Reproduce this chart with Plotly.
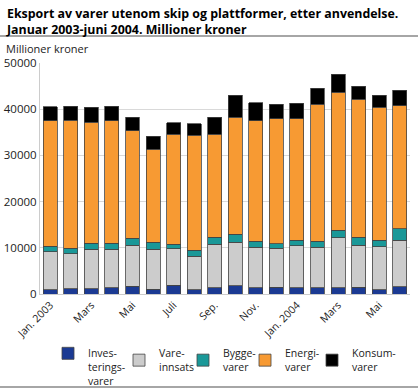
import plotly.graph_objects as go

months = ["Jan. 2003", "Feb. 2003", "Mars 2003", "Apr. 2003", "Mai 2003", "Juni 2003",
          "Juli 2003", "Aug. 2003", "Sep. 2003", "Okt. 2003", "Nov. 2003", "Des. 2003",
          "Jan. 2004", "Feb. 2004", "Mars 2004", "Apr. 2004", "Mai 2004", "Juni 2004"]
tick_vals = ["Jan. 2003", "Mars 2003", "Mai 2003", "Juli 2003", "Sep. 2003", "Nov. 2003",
             "Jan. 2004", "Mars 2004", "Mai 2004"]
tick_text = ["Jan. 2003", "Mars", "Mai", "Juli", "Sep.", "Nov.", "Jan. 2004", "Mars", "Mai"]

investeringsvarer = [900, 1150, 1150, 1300, 1730, 1080, 1940, 940, 1300, 1800, 1300, 1510,
                     1300, 1300, 1370, 1510, 940, 1580]
vareinnsats = [8250, 7560, 8500, 8350, 8850, 8570, 7850, 7270, 9430, 9430, 8850, 8350,
               9140, 8850, 10800, 9070, 9280, 10080]
byggevarer = [1150, 1150, 1360, 1360, 1520, 1510, 1010, 1220, 1580, 1660, 1300, 1010,
              1220, 1300, 1650, 1730, 1440, 2450]
energivarer = [27200, 27720, 26140, 26500, 23250, 20160, 23830, 24910, 22250, 25410, 26060, 27070,
               26280, 29660, 29880, 29810, 28730, 26640]
konsumvarer = [3000, 3020, 3240, 3170, 2880, 2880, 2450, 2520, 3670, 4680, 3890, 3100,
               3310, 3380, 3820, 2880, 2660, 3310]

series = [
    ("Inves-<br>terings-<br>varer", investeringsvarer, "#1b3a93"),
    ("Vare-<br>innsats", vareinnsats, "#cccccc"),
    ("Bygge-<br>varer", byggevarer, "#1a9898"),
    ("Energi-<br>varer", energivarer, "#f79a33"),
    ("Konsum-<br>varer", konsumvarer, "#000000"),
]

W, H = 418, 389
L, R, T, B = 40, 8, 63, 95
pw, ph = W - L - R, H - T - B


def px(xp):
    return (xp - L) / pw


def py(yp):
    return (H - B - yp) / ph


legend_x = [48, 119, 183, 245, 312]
legend_valign = ["top", "middle", "middle", "middle", "middle"]
legend_top = 340

fig = go.Figure()
legends = {}
for i, (name, vals, col) in enumerate(series):
    lname = "legend" if i == 0 else f"legend{i + 1}"
    fig.add_trace(go.Bar(x=months, y=vals, name=name, legend=lname,
                         marker=dict(color=col, line=dict(color="#444444", width=0.8))))
    legends[lname] = dict(orientation="v", xref="container", yref="container",
                          x=legend_x[i] / W, xanchor="left",
                          y=1 - legend_top / H, yanchor="top",
                          valign=legend_valign[i], bgcolor="rgba(0,0,0,0)",
                          font=dict(size=10.5, color="#222222"))

fig.update_layout(
    width=W, height=H,
    margin=dict(l=L, r=R, t=T, b=B, autoexpand=False),
    barmode="stack", bargap=0.32,
    plot_bgcolor="white", paper_bgcolor="white",
    font=dict(family="Open Sans, DejaVu Sans, sans-serif", size=11, color="#222222"),
    showlegend=True,
    xaxis=dict(type="category", tickmode="array", tickvals=tick_vals, ticktext=tick_text,
               tickangle=-45, showline=True, linecolor="#cccccc", ticks="",
               tickfont=dict(size=10.5), automargin=False),
    yaxis=dict(range=[0, 50000], dtick=10000, tickformat="d", showgrid=True,
               gridcolor="#d9d9d9", showline=True, linecolor="#cccccc", zeroline=False,
               tickfont=dict(size=11.5), ticks="", automargin=False),
    shapes=[
        dict(type="line", xref="paper", yref="paper", x0=px(0), x1=px(W), y0=py(36), y1=py(36),
             line=dict(color="#888888", width=1.5)),
        dict(type="line", xref="paper", yref="paper", x0=px(0), x1=px(W), y0=py(387), y1=py(387),
             line=dict(color="#888888", width=1.5)),
    ],
    annotations=[
        dict(text="<b>Eksport av varer utenom skip og plattformer, etter anvendelse.<br>Januar 2003-juni 2004. Millioner kroner</b>",
             xref="paper", yref="paper", x=px(4), y=py(3), xanchor="left", yanchor="top",
             align="left", showarrow=False, font=dict(size=12.4, color="#000000")),
        dict(text="Millioner kroner", xref="paper", yref="paper", x=px(4), y=py(48),
             xanchor="left", yanchor="middle", showarrow=False, font=dict(size=11)),
    ],
    **legends,
)

fig.write_html("out.html", config={"displayModeBar": False},
               post_script="document.body.style.margin='0';document.body.style.overflow='hidden';")
